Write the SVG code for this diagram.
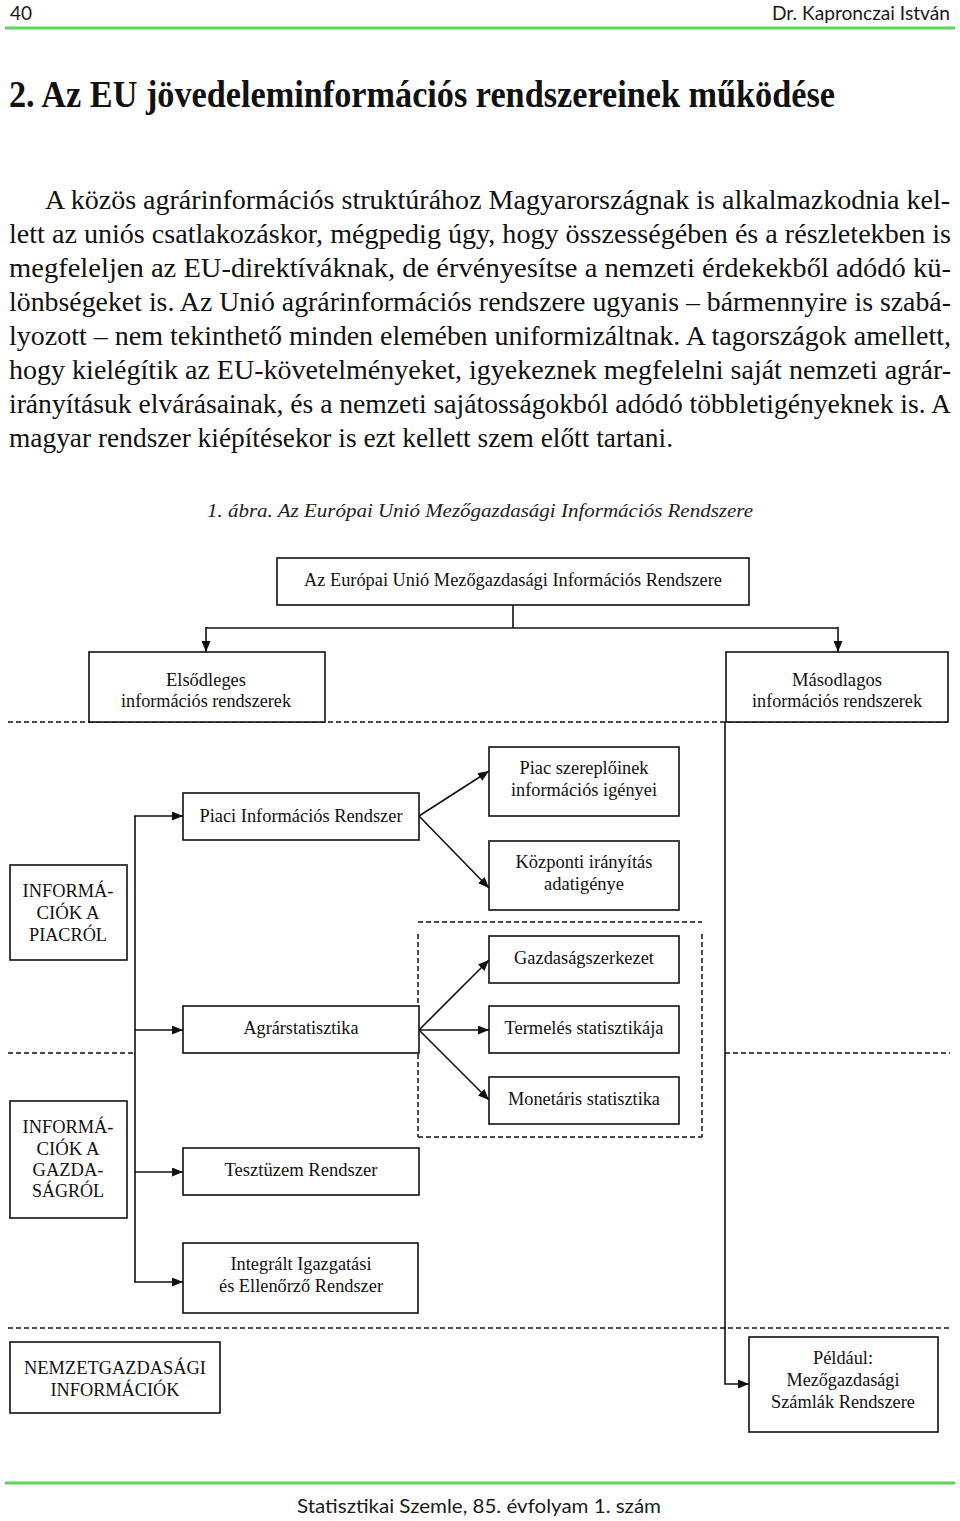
<svg xmlns="http://www.w3.org/2000/svg" width="960" height="1521" viewBox="0 0 960 1521">
<style>
.hdr{font-family:"Lato","DejaVu Sans",sans-serif;font-size:19px;fill:#1a1a1a}
.ttl{font-family:"Liberation Serif","Times New Roman",serif;font-size:38px;font-weight:bold;fill:#111}
.body{font-family:"Liberation Serif","Times New Roman",serif;font-size:27px;fill:#111}
.cap{font-family:"Liberation Serif","Times New Roman",serif;font-size:19px;font-style:italic;fill:#222}
.t{font-family:"Liberation Serif","Times New Roman",serif;font-size:18px;fill:#111;text-anchor:middle}
.box{fill:#fff;stroke:#111;stroke-width:1.6}
.con{fill:none;stroke:#111;stroke-width:1.6}
.dash{fill:none;stroke:#111;stroke-width:1.5;stroke-dasharray:5,3}
.green{stroke:#5ad65a;stroke-width:3}
</style>
<defs>
<marker id="ah" markerWidth="11" markerHeight="9" refX="11" refY="4.5" orient="auto" markerUnits="userSpaceOnUse">
<path d="M0,0 L11,4.5 L0,9 z" fill="#111"/>
</marker>
</defs>
<rect width="960" height="1521" fill="#fff"/>

<!-- header -->
<text class="hdr" x="10" y="20">40</text>
<text class="hdr" x="772" y="20" textLength="178" lengthAdjust="spacingAndGlyphs">Dr. Kapronczai István</text>
<line class="green" x1="5" y1="28" x2="955" y2="28"/>

<text class="ttl" x="9" y="107" textLength="826" lengthAdjust="spacingAndGlyphs">2. Az EU jövedeleminformációs rendszereinek működése</text>

<text class="body" x="45" y="209" textLength="905" lengthAdjust="spacingAndGlyphs">A közös agrárinformációs struktúrához Magyarországnak is alkalmazkodnia kel-</text>
<text class="body" x="9" y="243" textLength="942" lengthAdjust="spacingAndGlyphs">lett az uniós csatlakozáskor, mégpedig úgy, hogy összességében és a részletekben is</text>
<text class="body" x="9" y="277" textLength="942" lengthAdjust="spacingAndGlyphs">megfeleljen az EU-direktíváknak, de érvényesítse a nemzeti érdekekből adódó kü-</text>
<text class="body" x="9" y="311" textLength="942" lengthAdjust="spacingAndGlyphs">lönbségeket is. Az Unió agrárinformációs rendszere ugyanis – bármennyire is szabá-</text>
<text class="body" x="9" y="345" textLength="942" lengthAdjust="spacingAndGlyphs">lyozott – nem tekinthető minden elemében uniformizáltnak. A tagországok amellett,</text>
<text class="body" x="9" y="379" textLength="942" lengthAdjust="spacingAndGlyphs">hogy kielégítik az EU-követelményeket, igyekeznek megfelelni saját nemzeti agrár-</text>
<text class="body" x="9" y="413" textLength="942" lengthAdjust="spacingAndGlyphs">irányításuk elvárásainak, és a nemzeti sajátosságokból adódó többletigényeknek is. A</text>
<text class="body" x="9" y="447" textLength="664" lengthAdjust="spacingAndGlyphs">magyar rendszer kiépítésekor is ezt kellett szem előtt tartani.</text>

<text class="cap" x="207" y="517" textLength="546" lengthAdjust="spacingAndGlyphs">1. ábra. Az Európai Unió Mezőgazdasági Információs Rendszere</text>

<!-- dashed separators -->
<g id="separators">
<line class="dash" x1="8" y1="722" x2="948" y2="722"/>
<line class="dash" x1="418" y1="922" x2="702" y2="922"/>
<line class="dash" x1="418" y1="934" x2="418" y2="1137"/>
<line class="dash" x1="702" y1="934" x2="702" y2="1137"/>
<line class="dash" x1="418" y1="1137" x2="702" y2="1137"/>
<line class="dash" x1="8" y1="1053" x2="135" y2="1053"/>
<line class="dash" x1="725" y1="1053" x2="950" y2="1053"/>
<line class="dash" x1="8" y1="1328" x2="950" y2="1328"/>
</g>

<!-- connectors -->
<g id="connectors">
<polyline class="con" points="513,605 513,628"/>
<polyline class="con" points="206,628 838,628"/>
<line class="con" x1="206" y1="627" x2="206" y2="652" marker-end="url(#ah)"/>
<line class="con" x1="838" y1="627" x2="838" y2="652" marker-end="url(#ah)"/>
<polyline class="con" points="725,722 725,1384 749,1384" marker-end="url(#ah)"/>
<line class="con" x1="135" y1="816" x2="135" y2="1282"/>
<line class="con" x1="134" y1="816" x2="183" y2="816" marker-end="url(#ah)"/>
<line class="con" x1="135" y1="1030" x2="183" y2="1030" marker-end="url(#ah)"/>
<line class="con" x1="135" y1="1172" x2="183" y2="1172" marker-end="url(#ah)"/>
<line class="con" x1="134" y1="1282" x2="183" y2="1282" marker-end="url(#ah)"/>
<line class="con" x1="419" y1="816" x2="489" y2="771" marker-end="url(#ah)"/>
<line class="con" x1="419" y1="816" x2="489" y2="888" marker-end="url(#ah)"/>
<line class="con" x1="419" y1="1030" x2="489" y2="960" marker-end="url(#ah)"/>
<line class="con" x1="419" y1="1030" x2="489" y2="1030" marker-end="url(#ah)"/>
<line class="con" x1="419" y1="1030" x2="489" y2="1100" marker-end="url(#ah)"/>
</g>

<!-- nodes -->
<g id="n-top"><rect class="box" x="277" y="558" width="472" height="47"/>
<text class="t" x="513" y="586" textLength="418" lengthAdjust="spacingAndGlyphs">Az Európai Unió Mezőgazdasági Információs Rendszere</text></g>

<g id="n-elsodleges"><rect class="box" x="89" y="652" width="236" height="70"/>
<text class="t" x="206" y="686" textLength="80" lengthAdjust="spacingAndGlyphs">Elsődleges</text>
<text class="t" x="206" y="707" textLength="170" lengthAdjust="spacingAndGlyphs">információs rendszerek</text></g>

<g id="n-masodlagos"><rect class="box" x="726" y="652" width="222" height="70"/>
<text class="t" x="837" y="686" textLength="90" lengthAdjust="spacingAndGlyphs">Másodlagos</text>
<text class="t" x="837" y="707" textLength="170" lengthAdjust="spacingAndGlyphs">információs rendszerek</text></g>

<g id="n-piacszereplok"><rect class="box" x="489" y="747" width="190" height="69"/>
<text class="t" x="584" y="774" textLength="129" lengthAdjust="spacingAndGlyphs">Piac szereplőinek</text>
<text class="t" x="584" y="796" textLength="146" lengthAdjust="spacingAndGlyphs">információs igényei</text></g>

<g id="n-piaci"><rect class="box" x="183" y="793" width="236" height="47"/>
<text class="t" x="301" y="822" textLength="203" lengthAdjust="spacingAndGlyphs">Piaci Információs Rendszer</text></g>

<g id="n-kozponti"><rect class="box" x="489" y="841" width="190" height="69"/>
<text class="t" x="584" y="868" textLength="137" lengthAdjust="spacingAndGlyphs">Központi irányítás</text>
<text class="t" x="584" y="890" textLength="80" lengthAdjust="spacingAndGlyphs">adatigénye</text></g>

<g id="n-infopiac"><rect class="box" x="10" y="865" width="117" height="95"/>
<text class="t" x="68" y="897" textLength="91" lengthAdjust="spacingAndGlyphs">INFORMÁ-</text>
<text class="t" x="68" y="919" textLength="63" lengthAdjust="spacingAndGlyphs">CIÓK A</text>
<text class="t" x="68" y="941" textLength="78" lengthAdjust="spacingAndGlyphs">PIACRÓL</text></g>

<g id="n-gazdszerk"><rect class="box" x="489" y="936" width="190" height="47"/>
<text class="t" x="584" y="964" textLength="140" lengthAdjust="spacingAndGlyphs">Gazdaságszerkezet</text></g>

<g id="n-agrarstat"><rect class="box" x="183" y="1006" width="236" height="47"/>
<text class="t" x="301" y="1034" textLength="115" lengthAdjust="spacingAndGlyphs">Agrárstatisztika</text></g>

<g id="n-termeles"><rect class="box" x="489" y="1006" width="190" height="47"/>
<text class="t" x="584" y="1034" textLength="159" lengthAdjust="spacingAndGlyphs">Termelés statisztikája</text></g>

<g id="n-monetaris"><rect class="box" x="489" y="1077" width="190" height="47"/>
<text class="t" x="584" y="1105" textLength="152" lengthAdjust="spacingAndGlyphs">Monetáris statisztika</text></g>

<g id="n-infogazd"><rect class="box" x="10" y="1101" width="117" height="117"/>
<text class="t" x="68" y="1133" textLength="91" lengthAdjust="spacingAndGlyphs">INFORMÁ-</text>
<text class="t" x="68" y="1155" textLength="63" lengthAdjust="spacingAndGlyphs">CIÓK A</text>
<text class="t" x="68" y="1176" textLength="71" lengthAdjust="spacingAndGlyphs">GAZDA-</text>
<text class="t" x="68" y="1197" textLength="72" lengthAdjust="spacingAndGlyphs">SÁGRÓL</text></g>

<g id="n-tesztuzem"><rect class="box" x="183" y="1148" width="236" height="47"/>
<text class="t" x="301" y="1176" textLength="153" lengthAdjust="spacingAndGlyphs">Tesztüzem Rendszer</text></g>

<g id="n-integralt"><rect class="box" x="183" y="1243" width="235" height="70"/>
<text class="t" x="301" y="1270" textLength="141" lengthAdjust="spacingAndGlyphs">Integrált Igazgatási</text>
<text class="t" x="301" y="1292" textLength="164" lengthAdjust="spacingAndGlyphs">és Ellenőrző Rendszer</text></g>

<g id="n-nemzetgazd"><rect class="box" x="10" y="1342" width="210" height="71"/>
<text class="t" x="115" y="1374" textLength="182" lengthAdjust="spacingAndGlyphs">NEMZETGAZDASÁGI</text>
<text class="t" x="115" y="1396" textLength="129" lengthAdjust="spacingAndGlyphs">INFORMÁCIÓK</text></g>

<g id="n-peldaul"><rect class="box" x="749" y="1337" width="189" height="95"/>
<text class="t" x="843" y="1364" textLength="60" lengthAdjust="spacingAndGlyphs">Például:</text>
<text class="t" x="843" y="1386" textLength="113" lengthAdjust="spacingAndGlyphs">Mezőgazdasági</text>
<text class="t" x="843" y="1408" textLength="144" lengthAdjust="spacingAndGlyphs">Számlák Rendszere</text></g>

<!-- footer -->
<line class="green" x1="5" y1="1483" x2="955" y2="1483"/>
<text class="hdr" x="479" y="1513" text-anchor="middle" textLength="364" lengthAdjust="spacingAndGlyphs">Statisztikai Szemle, 85. évfolyam 1. szám</text>
</svg>
